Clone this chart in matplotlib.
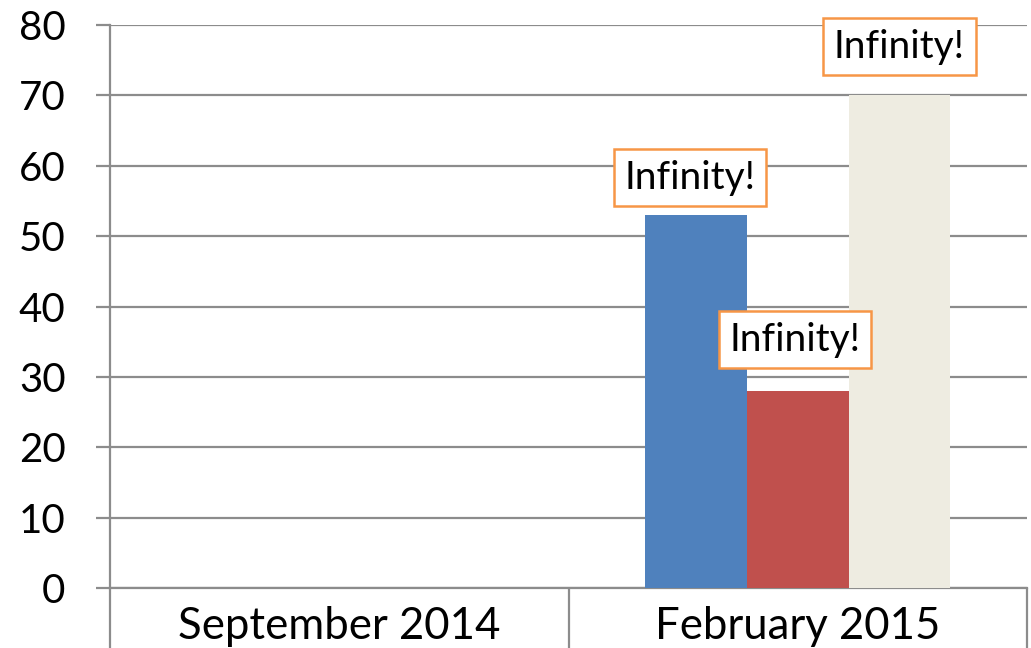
import matplotlib.pyplot as plt
import numpy as np

plt.rcParams['font.family'] = ['Lato', 'DejaVu Sans']

categories = ['September 2014', 'February 2015']
series_a = [0, 53]
series_b = [0, 28]
series_c = [0, 70]
labels = ['Infinity!', 'Infinity!', 'Infinity!']

colors = ['#4F81BD', '#C0504D', '#EEECE1']
grid_col = '#8C8C8C'
fsize = 29

fig = plt.figure(figsize=(10.31, 6.48), dpi=100)
ax = fig.add_axes([110 / 1031, 60 / 648, 917 / 1031, 563 / 648])

x = np.arange(len(categories))
w = 0.222
bars = []
for i, (vals, c) in enumerate(zip([series_a, series_b, series_c], colors)):
    b = ax.bar(x + (i - 1) * w, vals, width=w, color=c, zorder=3)
    bars.append(b)

# data labels on the February bars only
offsets = [(-4, 14), (-2, 24), (0, 22)]
for b, lab, off in zip(bars, labels, offsets):
    r = b[1]
    ax.annotate(lab, xy=(r.get_x() + r.get_width() / 2, r.get_height()),
                xytext=off, textcoords='offset points', ha='center', va='bottom',
                fontsize=28, color='black', zorder=5,
                bbox=dict(boxstyle='square,pad=0.27', fc='white', ec='#F79646', lw=1.8))

ax.set_xlim(-0.5, 1.5)
ax.set_ylim(0, 80)
ax.set_yticks(np.arange(0, 81, 10))
ax.yaxis.grid(True, color=grid_col, linewidth=1.6, zorder=0)
ax.tick_params(axis='y', length=10, width=1.6, color=grid_col, pad=22, labelsize=fsize)

ax.set_xticks(x)
ax.set_xticklabels(categories)
ax.set_xticks([-0.5, 0.5, 1.5], minor=True)
ax.tick_params(axis='x', which='major', length=0, pad=13, labelsize=31.5)
ax.tick_params(axis='x', which='minor', length=50, width=1.6, color=grid_col)

for s in ['top', 'right']:
    ax.spines[s].set_visible(False)
for s in ['left', 'bottom']:
    ax.spines[s].set_color(grid_col)
    ax.spines[s].set_linewidth(1.6)

plt.savefig('out.png')
